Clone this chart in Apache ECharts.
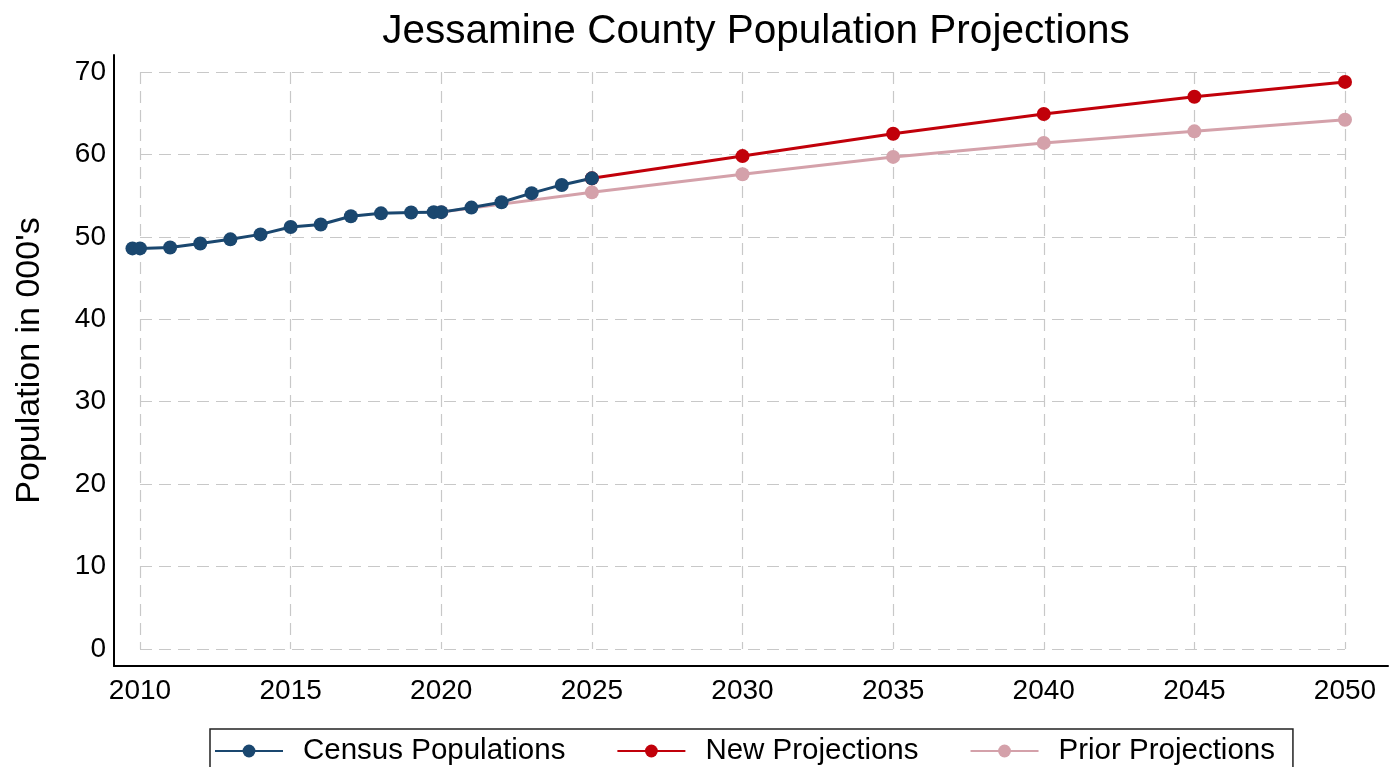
<!DOCTYPE html>
<html>
<head>
<meta charset="utf-8">
<title>Jessamine County Population Projections</title>
<script src="https://cdn.jsdelivr.net/npm/echarts@6/dist/echarts.min.js"></script>
<style>
  html, body { margin: 0; padding: 0; background: #fff; }
  #main { width: 1400px; height: 767px; }
</style>
</head>
<body>
<div id="main"></div>
<script>
// population in thousands
var censusYears = [2009.75, 2010, 2011, 2012, 2013, 2014, 2015, 2016, 2017, 2018, 2019, 2019.75, 2020, 2021, 2022, 2023, 2024, 2025];
var censusValues = [48.6, 48.6, 48.7, 49.2, 49.7, 50.3, 51.2, 51.5, 52.5, 52.85, 52.95, 53.0, 53.0, 53.55, 54.2, 55.3, 56.3, 57.1];
var newYears = [2025, 2030, 2035, 2040, 2045, 2050];
var newValues = [57.1, 59.8, 62.5, 64.9, 67.0, 68.8];
var priorYears = [2020, 2025, 2030, 2035, 2040, 2045, 2050];
var priorValues = [53.0, 55.4, 57.6, 59.7, 61.4, 62.8, 64.2];

function pairs(xs, ys) {
  var out = [];
  for (var i = 0; i < xs.length; i++) out.push([xs[i], ys[i]]);
  return out;
}

var font = 'Liberation Sans, Arial, sans-serif';
var myChart = echarts.init(document.getElementById('main'));

var option = {
  backgroundColor: '#fff',
  animation: false,
  title: {
    text: 'Jessamine County Population Projections',
    left: 751,
    textAlign: 'center',
    top: 6,
    textStyle: { fontFamily: font, fontSize: 40.5, fontWeight: 'normal', color: '#000' }
  },
  legend: {
    data: ['Census Populations', 'New Projections', 'Prior Projections'],
    left: 210,
    top: 729,
    padding: [7, 18, 12, 4],
    borderColor: '#222',
    borderWidth: 1.5,
    itemWidth: 68,
    itemHeight: 16,
    itemGap: 51,
    textStyle: { fontFamily: font, fontSize: 29.5, color: '#000', padding: [0, 0, 0, 15] }
  },
  grid: [
    // outer frame: only the two axis lines
    { left: 114, right: 12, top: 55, bottom: 101 },
    // inner region: 2010..2050 x 0..70
    { left: 140, right: 55, top: 72, bottom: 118 }
  ],
  xAxis: [
    {
      type: 'value', gridIndex: 0, min: 2009.14, max: 2051.43,
      axisLine: { show: true, onZero: false, lineStyle: { color: '#000', width: 2 } },
      axisTick: { show: false }, axisLabel: { show: false }, splitLine: { show: false }
    },
    {
      type: 'value', gridIndex: 1, min: 2010, max: 2050, interval: 5,
      axisLine: { show: false }, axisTick: { show: false },
      axisLabel: {
        margin: 28, fontFamily: font, fontSize: 28, color: '#000',
        formatter: function (v) { return String(v); }
      },
      splitLine: { show: true, lineStyle: { color: '#c8c8c8', width: 1.2, type: [12, 7] } }
    }
  ],
  yAxis: [
    {
      type: 'value', gridIndex: 0, min: -2.06, max: 72.06,
      name: "Population in 000's", nameLocation: 'middle', nameGap: 67,
      nameTextStyle: { fontFamily: font, fontSize: 34, color: '#000' },
      axisLine: { show: true, onZero: false, lineStyle: { color: '#000', width: 2 } },
      axisTick: { show: false }, axisLabel: { show: false }, splitLine: { show: false }
    },
    {
      type: 'value', gridIndex: 1, min: 0, max: 70, interval: 10,
      axisLine: { show: false }, axisTick: { show: false },
      axisLabel: { margin: 34, fontFamily: font, fontSize: 28, color: '#000' },
      splitLine: { show: true, lineStyle: { color: '#c8c8c8', width: 1.2, type: [12, 7] } }
    }
  ],
  series: [
    {
      name: 'Prior Projections', type: 'line', xAxisIndex: 1, yAxisIndex: 1,
      data: pairs(priorYears, priorValues),
      symbol: 'circle', symbolSize: 14, clip: false,
      lineStyle: { color: '#d4a1aa', width: 3 },
      itemStyle: { color: '#d4a1aa' }
    },
    {
      name: 'New Projections', type: 'line', xAxisIndex: 1, yAxisIndex: 1,
      data: pairs(newYears, newValues),
      symbol: 'circle', symbolSize: 14, clip: false,
      lineStyle: { color: '#c1000a', width: 3 },
      itemStyle: { color: '#c1000a' }
    },
    {
      name: 'Census Populations', type: 'line', xAxisIndex: 1, yAxisIndex: 1,
      data: pairs(censusYears, censusValues),
      symbol: 'circle', symbolSize: 14, clip: false,
      lineStyle: { color: '#1a476f', width: 3 },
      itemStyle: { color: '#1a476f' }
    }
  ]
};
myChart.setOption(option);
</script>
</body>
</html>
